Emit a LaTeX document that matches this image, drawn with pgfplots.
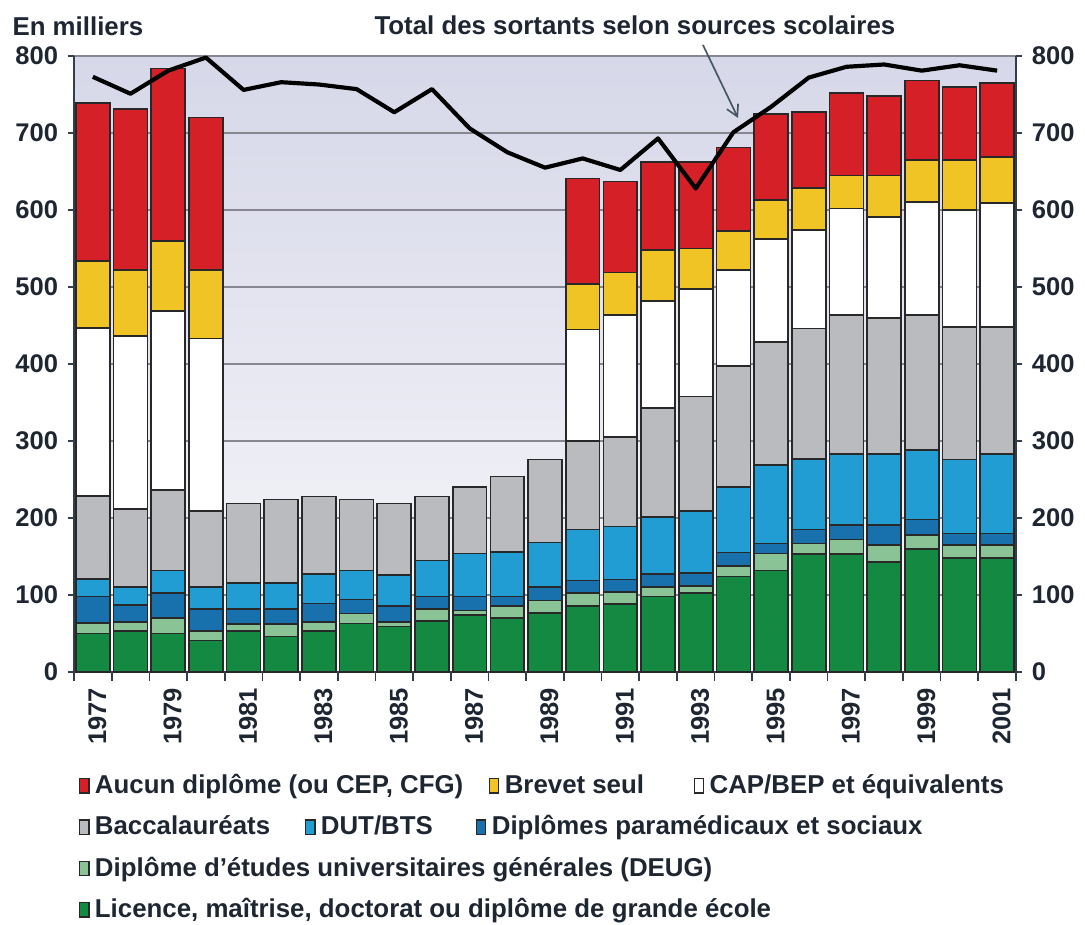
\documentclass[border=0pt]{standalone}
\usepackage{pgfplots}
\pgfplotsset{compat=1.18}
\usepackage{pgfplotstable}
\usetikzlibrary{arrows.meta}
\usepackage{fontspec}
\setmainfont{Liberation Sans}
\newcommand\lf{\fontsize{9.3}{11}\selectfont\bfseries}
\newcommand\tf{\fontsize{9.2}{11}\selectfont\bfseries}
\definecolor{cred}{RGB}{214,32,40}
\definecolor{cyel}{RGB}{240,196,36}
\definecolor{cgray}{RGB}{186,187,190}
\definecolor{cdut}{RGB}{34,157,212}
\definecolor{cpar}{RGB}{24,112,172}
\definecolor{cdeug}{RGB}{138,196,150}
\definecolor{cgreen}{RGB}{20,137,66}
\definecolor{textc}{RGB}{30,38,50}
\definecolor{gridc}{RGB}{135,135,145}
\definecolor{bgtop}{RGB}{214,215,232}
\definecolor{bgbot}{RGB}{248,248,251}
\definecolor{axisc}{RGB}{50,62,75}
\definecolor{barline}{RGB}{40,40,40}
\definecolor{arrowc}{RGB}{70,85,100}

\pgfplotstableread{
year lic deug par dut bac cap brev auc tot
1977 50 14 34 23 108 218 87 205 773
1978 53 12 22 23 102 224 86 209 751
1979 50 20 33 29 104 233 91 224 781
1980 41 12 29 28 99 224 89 198 798
1981 53 9 20 34 103 0 0 0 756
1982 46 16 20 34 108 0 0 0 766
1983 53 12 24 38 101 0 0 0 763
1984 63 13 18 38 92 0 0 0 757
1985 59 6 21 40 93 0 0 0 727
1986 66 16 16 47 83 0 0 0 757
1987 74 6 18 56 86 0 0 0 706
1988 70 16 12 58 98 0 0 0 675
1989 77 16 17 58 108 0 0 0 655
1990 86 17 16 66 115 145 59 137 667
1991 88 16 16 69 116 159 55 118 652
1992 98 12 17 74 142 139 66 114 693
1993 103 9 17 80 149 139 53 112 628
1994 124 14 17 85 157 125 51 108 701
1995 132 22 13 102 160 133 51 112 734
1996 153 14 18 92 169 128 55 98 772
1997 153 19 19 92 181 138 43 107 786
1998 143 22 26 92 177 131 54 103 789
1999 160 18 20 90 176 146 55 103 781
2000 148 17 15 96 172 152 65 95 788
2001 148 17 15 103 165 161 60 96 781
}\datatable

\pgfplotsset{
  base/.style={scale only axis, width=339.12pt, height=221.76pt,
    xmin=1976.5, xmax=2001.5, ymin=0, ymax=800},
  legrow/.style={base, hide axis, ymin=0, ymax=1,
    legend style={at={(#1)}, anchor=west, draw=none, fill=none,
      inner sep=0pt, outer sep=0pt, /tikz/column sep=0pt,
      nodes={inner sep=0pt, font=\lf, text=textc}},
    legend cell align=left,
    legend image code/.code={
      \draw[##1,draw=barline,line width=0.5pt] (0pt,-2.6pt) rectangle (3.3pt,2.6pt);
      \path[draw=none,fill=none] (0pt,0pt) -- (5.5pt,0pt);}
  }
}

\begin{document}
\begin{tikzpicture}
\path[use as bounding box] (-26.64pt,-90.72pt) rectangle (363.96pt,241.92pt);

\begin{axis}[base,
  ybar stacked, bar width=0.9,
  axis x line*=bottom, axis y line*=left,
  axis background/.style={top color=bgtop, bottom color=bgbot},
  ytick={0,100,...,800},
  ymajorgrids, grid style={color=gridc, line width=0.8pt},
  xtick={1977,1979,...,2001},
  minor xtick={1976.5,1977.5,...,2001.5},
  major x tick style={draw=none},
  minor x tick style={color=axisc, line width=0.6pt},
  ytick style={color=axisc, line width=0.6pt},
  tick align=outside, major tick length=2.2pt, minor tick length=3.2pt,
  axis line style={color=axisc, line width=0.8pt},
  /pgf/number format/assume math mode=true,
  /pgf/number format/1000 sep={},
  xticklabel style={rotate=90, anchor=east, font=\tf, text=textc, yshift=-1.6pt},
  yticklabel style={font=\tf, text=textc},
  every axis plot/.append style={draw=barline, line width=0.6pt},
]
\addplot[fill=cgreen] table[x=year,y=lic]{\datatable};
\addplot[fill=cdeug] table[x=year,y=deug]{\datatable};
\addplot[fill=cpar] table[x=year,y=par]{\datatable};
\addplot[fill=cdut] table[x=year,y=dut]{\datatable};
\addplot[fill=cgray] table[x=year,y=bac]{\datatable};
\addplot[fill=white] table[x=year,y=cap]{\datatable};
\addplot[fill=cyel] table[x=year,y=brev]{\datatable};
\addplot[fill=cred] table[x=year,y=auc]{\datatable};
\end{axis}

\begin{axis}[base,
  axis x line=none, axis y line*=right,
  ytick={0,100,...,800}, tick align=outside, major tick length=2.2pt,
  axis line style={color=axisc, line width=0.8pt},
  ytick style={color=axisc, line width=0.6pt},
  yticklabel style={font=\tf, text=textc},
  /pgf/number format/assume math mode=true,
  clip=false,
]
\addplot[black, line width=1.5pt, line join=round] table[x=year,y=tot]{\datatable};
\node[anchor=west, font=\lf, text=textc, inner sep=0pt] at (axis description cs:-0.0658,1.0487) {En milliers};
\node[anchor=west, font=\lf, text=textc, inner sep=0pt] at (axis description cs:0.3185,1.0503) {Total des sortants selon sources scolaires};
\draw[arrowc, line width=0.6pt, -{Straight Barb[length=4pt,width=4.5pt]}] (axis description cs:0.6677,1.0179) -- (axis description cs:0.7049,0.8994);
\end{axis}

\begin{axis}[legrow={0.0053,-0.185}, legend columns=3]
\addlegendimage{fill=cred}
\addlegendentry{\makebox[141.8pt][l]{Aucun diplôme (ou CEP, CFG)}}
\addlegendimage{fill=cyel}
\addlegendentry{\makebox[68pt][l]{Brevet seul}}
\addlegendimage{fill=white}
\addlegendentry{CAP/BEP et équivalents}
\end{axis}

\begin{axis}[legrow={0.0053,-0.252}, legend columns=3]
\addlegendimage{fill=cgray}
\addlegendentry{\makebox[75.6pt][l]{Baccalauréats}}
\addlegendimage{fill=cdut}
\addlegendentry{\makebox[55.8pt][l]{DUT/BTS}}
\addlegendimage{fill=cpar}
\addlegendentry{Diplômes paramédicaux et sociaux}
\end{axis}

\begin{axis}[legrow={0.0053,-0.319}]
\addlegendimage{fill=cdeug}
\addlegendentry{Diplôme d'études universitaires générales (DEUG)}
\end{axis}

\begin{axis}[legrow={0.0053,-0.386}]
\addlegendimage{fill=cgreen}
\addlegendentry{Licence, maîtrise, doctorat ou diplôme de grande école}
\end{axis}
\end{tikzpicture}
\end{document}
